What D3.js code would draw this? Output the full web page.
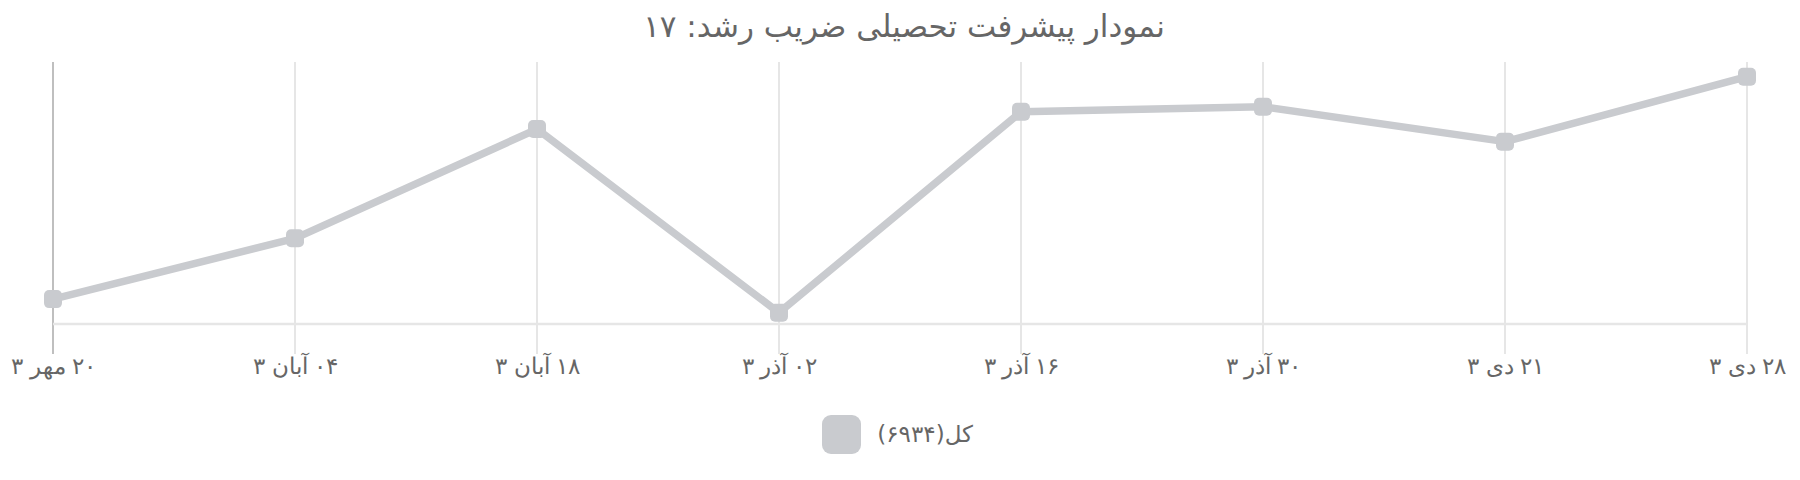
<!DOCTYPE html>
<html>
<head>
<meta charset="utf-8">
<script src="https://cdn.jsdelivr.net/npm/d3@7"></script>
<style>
  body { margin: 0; background: #fff; }
  svg { display: block; font-family: "DejaVu Sans", sans-serif; }
</style>
</head>
<body>
<svg></svg>
<script>
// Chart data
const categories = ["۲۰ مهر ۳", "۰۴ آبان ۳", "۱۸ آبان ۳", "۰۲ آذر ۳", "۱۶ آذر ۳", "۳۰ آذر ۳", "۲۱ دی ۳", "۲۸ دی ۳"];
const values = [9.5, 32.7, 74.4, 4.3, 81.0, 82.9, 69.6, 94.4];
const seriesName = "کل(۶۹۳۴)";
const titleText = "نمودار پیشرفت تحصیلی ضریب رشد: ۱۷";

const width = 1800;
const height = 480;
const margin = { top: 62, right: 53, bottom: 156, left: 53 };
const grey = "rgb(201,203,207)";
const textColor = "#666";

const svg = d3.select("svg").attr("width", width).attr("height", height);

// Scales
const x = d3.scalePoint().domain(categories).range([margin.left, width - margin.right]);
const y = d3.scaleLinear().domain([0, 100]).range([height - margin.bottom, margin.top]);

const baseY = height - margin.bottom;

// Vertical grid lines (with tick marks below the baseline)
svg.append("g")
  .attr("class", "grid")
  .selectAll("line")
  .data(categories)
  .join("line")
  .attr("x1", (d) => x(d))
  .attr("x2", (d) => x(d))
  .attr("y1", margin.top)
  .attr("y2", baseY + 30)
  .attr("stroke", (d, i) => (i === 0 ? "#bfbfbf" : "#e6e6e6"))
  .attr("stroke-width", 2);

// Baseline
svg.append("line")
  .attr("x1", x(categories[0]))
  .attr("x2", x(categories[categories.length - 1]))
  .attr("y1", baseY)
  .attr("y2", baseY)
  .attr("stroke", "#e6e6e6")
  .attr("stroke-width", 2.5);

// X axis labels
const xAxis = svg.append("g")
  .attr("class", "x-axis")
  .attr("transform", `translate(0,${baseY})`)
  .call(d3.axisBottom(x).tickSize(0));

xAxis.select(".domain").remove();
xAxis.selectAll(".tick line").remove();
xAxis.selectAll("text")
  .attr("y", 50)
  .attr("dy", 0)
  .attr("direction", "rtl")
  .attr("fill", textColor)
  .style("font-size", "22.5px");

// Line
const line = d3.line()
  .x((d, i) => x(categories[i]))
  .y((d) => y(d));

svg.append("path")
  .datum(values)
  .attr("fill", "none")
  .attr("stroke", grey)
  .attr("stroke-width", 7.5)
  .attr("stroke-linejoin", "round")
  .attr("d", line);

// Points
const ps = 18;
svg.append("g")
  .selectAll("rect")
  .data(values)
  .join("rect")
  .attr("x", (d, i) => x(categories[i]) - ps / 2)
  .attr("y", (d) => y(d) - ps / 2)
  .attr("width", ps)
  .attr("height", ps)
  .attr("rx", 5)
  .attr("fill", grey);

// Title
svg.append("text")
  .attr("x", 904)
  .attr("y", 37)
  .attr("text-anchor", "middle")
  .attr("fill", textColor)
  .style("font-size", "31px")
  .text(titleText);

// Legend
const legend = svg.append("g").attr("transform", "translate(822,415)");
legend.append("rect")
  .attr("width", 39)
  .attr("height", 39)
  .attr("rx", 9)
  .attr("fill", grey);
legend.append("text")
  .attr("x", 151)
  .attr("y", 27)
  .attr("text-anchor", "start")
  .attr("direction", "rtl")
  .attr("fill", textColor)
  .style("font-size", "23px")
  .text(seriesName);
</script>
</body>
</html>
